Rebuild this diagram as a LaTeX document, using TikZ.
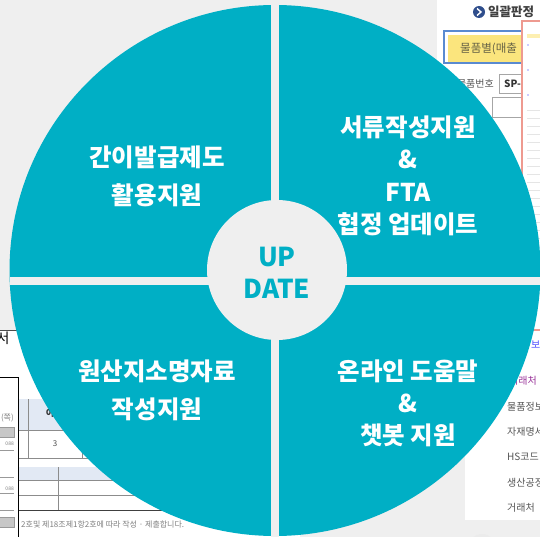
\documentclass[tikz,border=0pt]{standalone}
\usepackage{fontspec}
\setmainfont{Noto Sans CJK KR}
\definecolor{pieteal}{HTML}{00AFC5}
\definecolor{bggray}{HTML}{EFEFEF}
\definecolor{tabyellow}{HTML}{FBE57D}
\definecolor{framblue}{HTML}{5A8AD0}
\definecolor{iconblue}{HTML}{2F4E8C}
\definecolor{pinkline}{HTML}{EE9A90}
\definecolor{headblue}{HTML}{E2E9F4}
\definecolor{listgray}{HTML}{555555}

\begin{document}
\begin{tikzpicture}[x=1pt, y=-1pt]

\tikzstyle{every node} = [inner sep=0pt]
\tikzstyle{quarter} = [text=white, align=center, font=\bfseries]
\tikzstyle{small} = [text=listgray, font=\fontsize{10}{12}\selectfont]
\tikzstyle{tiny} = [text=gray, font=\fontsize{8}{10}\selectfont]

\useasboundingbox (0,0) rectangle (540,537);
\clip (0,0) rectangle (540,537);

% background screenshots
\fill[bggray] (0,0) rectangle (540,537);
\fill[white] (437,0) rectangle (540,330);
\fill[white] (465,330) rectangle (540,520);
\fill[white] (0,331) rectangle (300,537);
\fill[black!8] (482,548) circle (14pt);

\fill[iconblue] (479,12) circle (6pt);
\draw[white, line width=1.4pt] (477,8.5) -- (481,12) -- (477,15.5);
\node[anchor=west, text=black!75, font=\fontsize{12.5}{14}\selectfont\bfseries] (title) at (488,12) {일괄판정};
\draw[framblue, line width=2pt] (444,31) rectangle (560,63);
\fill[tabyellow] (448,35) rectangle (540,62);
\node[anchor=west, text=black!55!yellow!70!black, font=\fontsize{11.5}{13}\selectfont] (tab) at (460,49) {물품별(매출};
\node[anchor=east, small] (num) at (494,84) {물품번호};
\draw[black!35, fill=white] (499,74) rectangle (530,93);
\node[anchor=west, text=black!80, font=\fontsize{10}{12}\selectfont\bfseries] (sp) at (504,84) {SP-};
\draw[black!35, fill=white] (492,97) rectangle (530,117);
\draw[pinkline, line width=1.2pt, fill=white] (522,21) rectangle (560,330);
\fill[tabyellow!60] (527,34) rectangle (540,38);
\foreach \y in {45,70,95}
  \fill[blue!40] (528,\y) circle (0.8pt);
\foreach \y in {110,118,...,300}
  \draw[black!10] (527,\y) -- (540,\y);

\node[anchor=west, text=blue!70, font=\fontsize{10}{12}\selectfont] (l0) at (531,345) {보};
\node[anchor=east, text=violet!80, font=\fontsize{10}{12}\selectfont] (l1) at (537,381) {거래처};
\node[anchor=west, small] (l2) at (507,407) {물품정보};
\node[anchor=west, small] (l3) at (507,432) {자재명세};
\node[anchor=west, small] (l4) at (507,457) {HS코드};
\node[anchor=west, small] (l5) at (507,483) {생산공정};
\node[anchor=west, small] (l6) at (507,508) {거래처};

\draw[black!70, line width=0.8pt] (0,330) -- (200,330);
\node[text=black, font=\fontsize{14}{16}\selectfont] (doc) at (3,338) {서};
\fill[headblue] (18,399) rectangle (250,430);
\fill[headblue] (18,467) rectangle (250,480);
\draw[black!45] (18,430) -- (250,430);
\draw[black!45] (18,458) -- (250,458);
\draw[black!45] (18,480) -- (250,480);
\draw[black!45] (18,495) -- (250,495);
\draw[black!45] (28,399) -- (28,458);
\draw[black!45] (82,430) -- (82,458);
\draw[black!45] (58,467) -- (58,510);
\draw[black!75, line width=0.8pt] (18,510) -- (250,510);
\node[text=black!70, font=\fontsize{8}{10}\selectfont] (c3) at (55,444) {3};
\node[text=black!80, font=\fontsize{9}{10}\selectfont\bfseries] (ci) at (50,413) {이};
\node[anchor=west, tiny] (foot) at (21,524) {2호및 제18조제1항2호에 따라 작성 · 제출합니다.};
\draw[black, line width=0.8pt, fill=white] (-5,377) rectangle (18,545);
\node[anchor=east, tiny] (pg) at (14,418) {(쪽)};
\draw[black!40, fill=black!22] (-2,427) rectangle (14,437);
\draw[black!40, fill=black!22] (-2,517) rectangle (14,527);
\node[anchor=east, text=black!50, font=\fontsize{5}{6}\selectfont] (n1) at (14,444) {088};
\node[anchor=east, text=black!50, font=\fontsize{5}{6}\selectfont] (n2) at (14,489) {088};
\draw[black!40] (0,450) -- (14,450);
\draw[black!40] (0,477) -- (14,477);
\draw[black!40] (0,493) -- (14,493);
\draw[black!40] (0,510) -- (14,510);

% the wheel
\fill[pieteal] (275,270.5) circle (265.5pt);
\fill[bggray] (271,0) rectangle (279,537);
\fill[bggray] (10,277) rectangle (540,285);
\fill[bggray] (277,270) circle (70pt);

\node[quarter, font=\fontsize{24.5}{38}\selectfont\bfseries] (simple) at (157,176) {간이발급제도\\활용지원};
\node[quarter, font=\fontsize{24.5}{32.5}\selectfont\bfseries] (docs) at (408,176) {서류작성지원\\\&\\FTA\\협정 업데이트};
\node[quarter, font=\fontsize{24.5}{38}\selectfont\bfseries] (origin) at (157,390) {원산지소명자료\\작성지원};
\node[quarter, font=\fontsize{24.5}{32}\selectfont\bfseries] (help) at (408,403) {온라인 도움말\\\&\\챗봇 지원};
\node[text=pieteal, align=center, font=\fontsize{26}{32}\selectfont\bfseries] (update) at (277,273) {UP\\DATE};

\end{tikzpicture}
\end{document}
